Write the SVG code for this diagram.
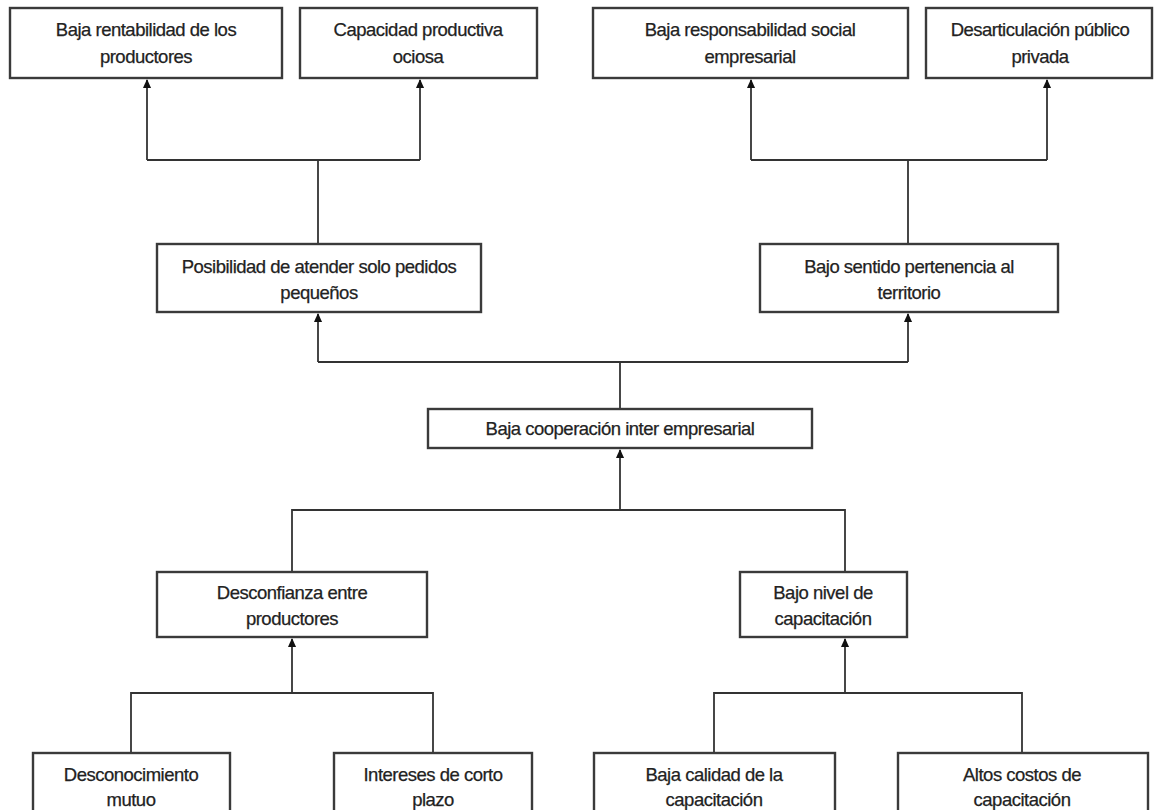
<svg xmlns="http://www.w3.org/2000/svg" width="1159" height="810" viewBox="0 0 1159 810">
<style>
.box{fill:#fff;stroke:#3a3a3a;stroke-width:2.4}
.t{font-family:"Liberation Sans",Arial,sans-serif;font-size:18.5px;fill:#222;stroke:#222;stroke-width:0.25px;text-anchor:middle;letter-spacing:-0.5px}
.c{fill:none;stroke:#333;stroke-width:1.8}
</style>
<defs>
<marker id="ah" viewBox="0 0 10 10" refX="9" refY="5" markerWidth="10" markerHeight="9" orient="auto" markerUnits="userSpaceOnUse">
<path d="M0,0.5 L10,5 L0,9.5 Z" fill="#111"/>
</marker>
</defs>
<rect width="1159" height="810" fill="#fff"/>
<g id="connectors">
<path class="c" d="M318,244 V160 M147,160 H420 M147,160 V80" marker-end="url(#ah)"/>
<path class="c" d="M420,160 V80" marker-end="url(#ah)"/>
<path class="c" d="M908,244 V160 M751,160 H1047 M751,160 V80" marker-end="url(#ah)"/>
<path class="c" d="M1047,160 V80" marker-end="url(#ah)"/>
<path class="c" d="M620,409 V362 M318,362 H908 M318,362 V314" marker-end="url(#ah)"/>
<path class="c" d="M908,362 V314" marker-end="url(#ah)"/>
<path class="c" d="M292,572 V510 H845 V572 M620,510 V450" marker-end="url(#ah)"/>
<path class="c" d="M131,753 V693 H433 V753 M292,693 V639" marker-end="url(#ah)"/>
<path class="c" d="M714,753 V693 H1022 V753 M845,693 V639" marker-end="url(#ah)"/>
</g>
<g id="n1"><rect class="box" x="10" y="8" width="272" height="70"/><text class="t" x="146" y="36">Baja rentabilidad de los</text><text class="t" x="146" y="63">productores</text></g>
<g id="n2"><rect class="box" x="300" y="8" width="237" height="70"/><text class="t" x="418" y="36">Capacidad productiva</text><text class="t" x="418" y="63">ociosa</text></g>
<g id="n3"><rect class="box" x="593" y="8" width="315" height="70"/><text class="t" x="750" y="36">Baja responsabilidad social</text><text class="t" x="750" y="63">empresarial</text></g>
<g id="n4"><rect class="box" x="926" y="8" width="226" height="70"/><text class="t" x="1040" y="36">Desarticulación público</text><text class="t" x="1040" y="63">privada</text></g>
<g id="n5"><rect class="box" x="157" y="244" width="324" height="68"/><text class="t" x="319" y="273">Posibilidad de atender solo pedidos</text><text class="t" x="319" y="299">pequeños</text></g>
<g id="n6"><rect class="box" x="760" y="244" width="298" height="68"/><text class="t" x="909" y="273">Bajo sentido pertenencia al</text><text class="t" x="909" y="299">territorio</text></g>
<g id="n7"><rect class="box" x="428" y="409" width="384" height="39"/><text class="t" x="620" y="435">Baja cooperación inter empresarial</text></g>
<g id="n8"><rect class="box" x="157" y="572" width="270" height="65"/><text class="t" x="292" y="599">Desconfianza entre</text><text class="t" x="292" y="625">productores</text></g>
<g id="n9"><rect class="box" x="740" y="572" width="167" height="65"/><text class="t" x="823" y="599">Bajo nivel de</text><text class="t" x="823" y="625">capacitación</text></g>
<g id="n10"><rect class="box" x="33" y="753" width="197" height="70"/><text class="t" x="131" y="781">Desconocimiento</text><text class="t" x="131" y="806">mutuo</text></g>
<g id="n11"><rect class="box" x="334" y="753" width="198" height="70"/><text class="t" x="433" y="781">Intereses de corto</text><text class="t" x="433" y="806">plazo</text></g>
<g id="n12"><rect class="box" x="594" y="753" width="241" height="70"/><text class="t" x="714" y="781">Baja calidad de la</text><text class="t" x="714" y="806">capacitación</text></g>
<g id="n13"><rect class="box" x="898" y="753" width="250" height="70"/><text class="t" x="1022" y="781">Altos costos de</text><text class="t" x="1022" y="806">capacitación</text></g>
</svg>
